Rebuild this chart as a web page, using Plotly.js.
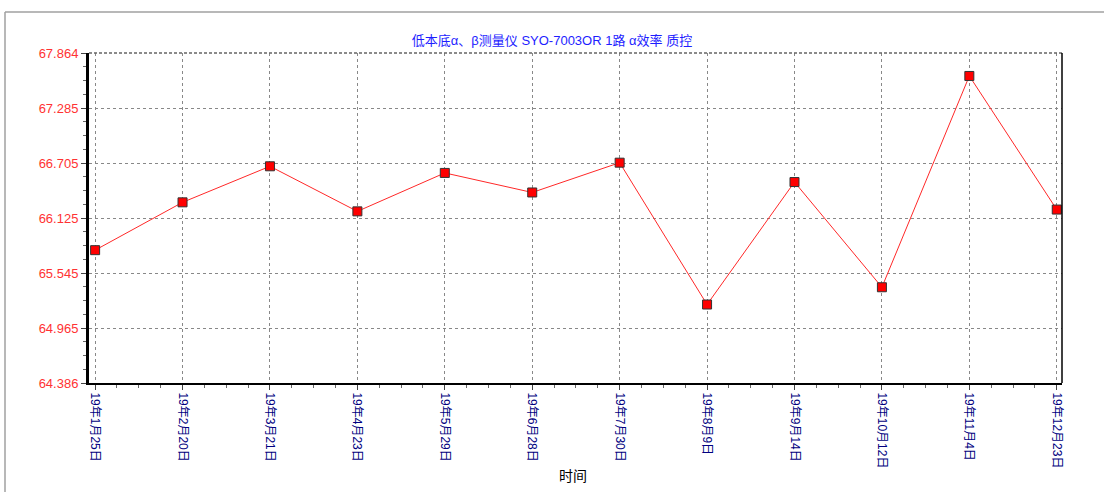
<!DOCTYPE html>
<html>
<head>
<meta charset="utf-8">
<script src="https://cdn.plot.ly/plotly-3.0.1.min.js"></script>
<style>html,body{margin:0;padding:0;background:#fff;}#chart{width:1104px;height:492px;}</style>
</head>
<body>
<div id="chart"></div>
<script>
const categories = ["19年1月25日","19年2月20日","19年3月21日","19年4月23日","19年5月29日","19年6月28日","19年7月30日","19年8月9日","19年9月14日","19年10月12日","19年11月4日","19年12月23日"];
const efficiency = [65.786, 66.290, 66.670, 66.195, 66.600, 66.394, 66.708, 65.213, 66.504, 65.395, 67.622, 66.214];
const yTickLabels = ["64.386","64.965","65.545","66.125","66.705","67.285","67.864"];
const chartTitle = "低本底α、β测量仪 SYO-7003OR 1路 α效率 质控";
const xTitle = "时间";

const xIdx = categories.map((c, i) => i);
const yMin = 64.386, yMax = 67.864;
const yStep = (yMax - yMin) / (yTickLabels.length - 1);
const yTickVals = yTickLabels.map((t, i) => yMin + i * yStep);

const FONT = "Liberation Sans, Arial, Noto Sans CJK SC, sans-serif";

const trace = {
  x: xIdx, y: efficiency, type: "scatter", mode: "lines+markers",
  line: {color: "rgb(255,40,40)", width: 1},
  marker: {symbol: "square", size: 9, color: "#ff0000", line: {color: "#333", width: 1}},
  hoverinfo: "skip", cliponaxis: false
};

const layout = {
  width: 1104, height: 492,
  margin: {l: 89, r: 42, t: 53, b: 109},
  paper_bgcolor: "#fff", plot_bgcolor: "#fff",
  showlegend: false,
  font: {family: FONT, size: 12},
  title: {text: chartTitle, x: 0.5, xref: "container", xanchor: "center", y: 1 - 40/492, yref: "container", yanchor: "middle",
          font: {family: FONT, size: 13, color: "rgb(30,30,255)"}},
  xaxis: {
    range: [-0.07, 11.06], tickmode: "array", tickvals: xIdx, ticktext: categories,
    tickangle: 90, tickfont: {family: FONT, size: 12, color: "#000080"},
    showgrid: true, gridcolor: "#888", griddash: "3px,3px", gridwidth: 1,
    zeroline: false, showline: true, linecolor: "#000", linewidth: 2, mirror: false,
    ticks: "outside", ticklen: 5, tickcolor: "#444", tickwidth: 1,
    minor: {tick0: 0, dtick: 0.25, ticks: "outside", ticklen: 3, tickcolor: "#666", showgrid: false},
    fixedrange: true
  },
  yaxis: {
    range: [yMin, yMax], tickmode: "array", tickvals: yTickVals, ticktext: yTickLabels,
    tickfont: {family: FONT, size: 13, color: "rgb(255,50,50)"},
    showgrid: true, gridcolor: "#888", griddash: "3px,3px", gridwidth: 1,
    zeroline: false, showline: true, linecolor: "#000", linewidth: 3,
    ticks: "outside", ticklen: 5, tickcolor: "#444", tickwidth: 1,
    minor: {tick0: yMin, dtick: yStep / 4, ticks: "outside", ticklen: 3, tickcolor: "#666", showgrid: false},
    fixedrange: true
  },
  shapes: [
    {type: "line", xref: "paper", yref: "paper", x0: 0, x1: 1, y0: 1, y1: 1, line: {color: "#666", width: 1.5, dash: "3px,2px"}},
    {type: "line", xref: "paper", yref: "paper", x0: 1, x1: 1, y0: 0, y1: 1, line: {color: "#000", width: 1.5}},
    {type: "line", xref: "paper", yref: "paper", x0: (5-89)/973, x1: (1104-89)/973, y0: (383-12)/330, y1: (383-12)/330, line: {color: "#a0a0a0", width: 1.5}},
    {type: "line", xref: "paper", yref: "paper", x0: (5-89)/973, x1: (5-89)/973, y0: (383-12)/330, y1: (383-500)/330, line: {color: "#a0a0a0", width: 1.5}}
  ],
  annotations: [
    {text: xTitle, xref: "paper", yref: "paper", x: (573-89)/973, y: (383-476)/330, xanchor: "center", yanchor: "middle",
     showarrow: false, font: {family: FONT, size: 14, color: "#000"}}
  ]
};

Plotly.newPlot("chart", [trace], layout, {displayModeBar: false, staticPlot: true});
</script>
</body>
</html>
